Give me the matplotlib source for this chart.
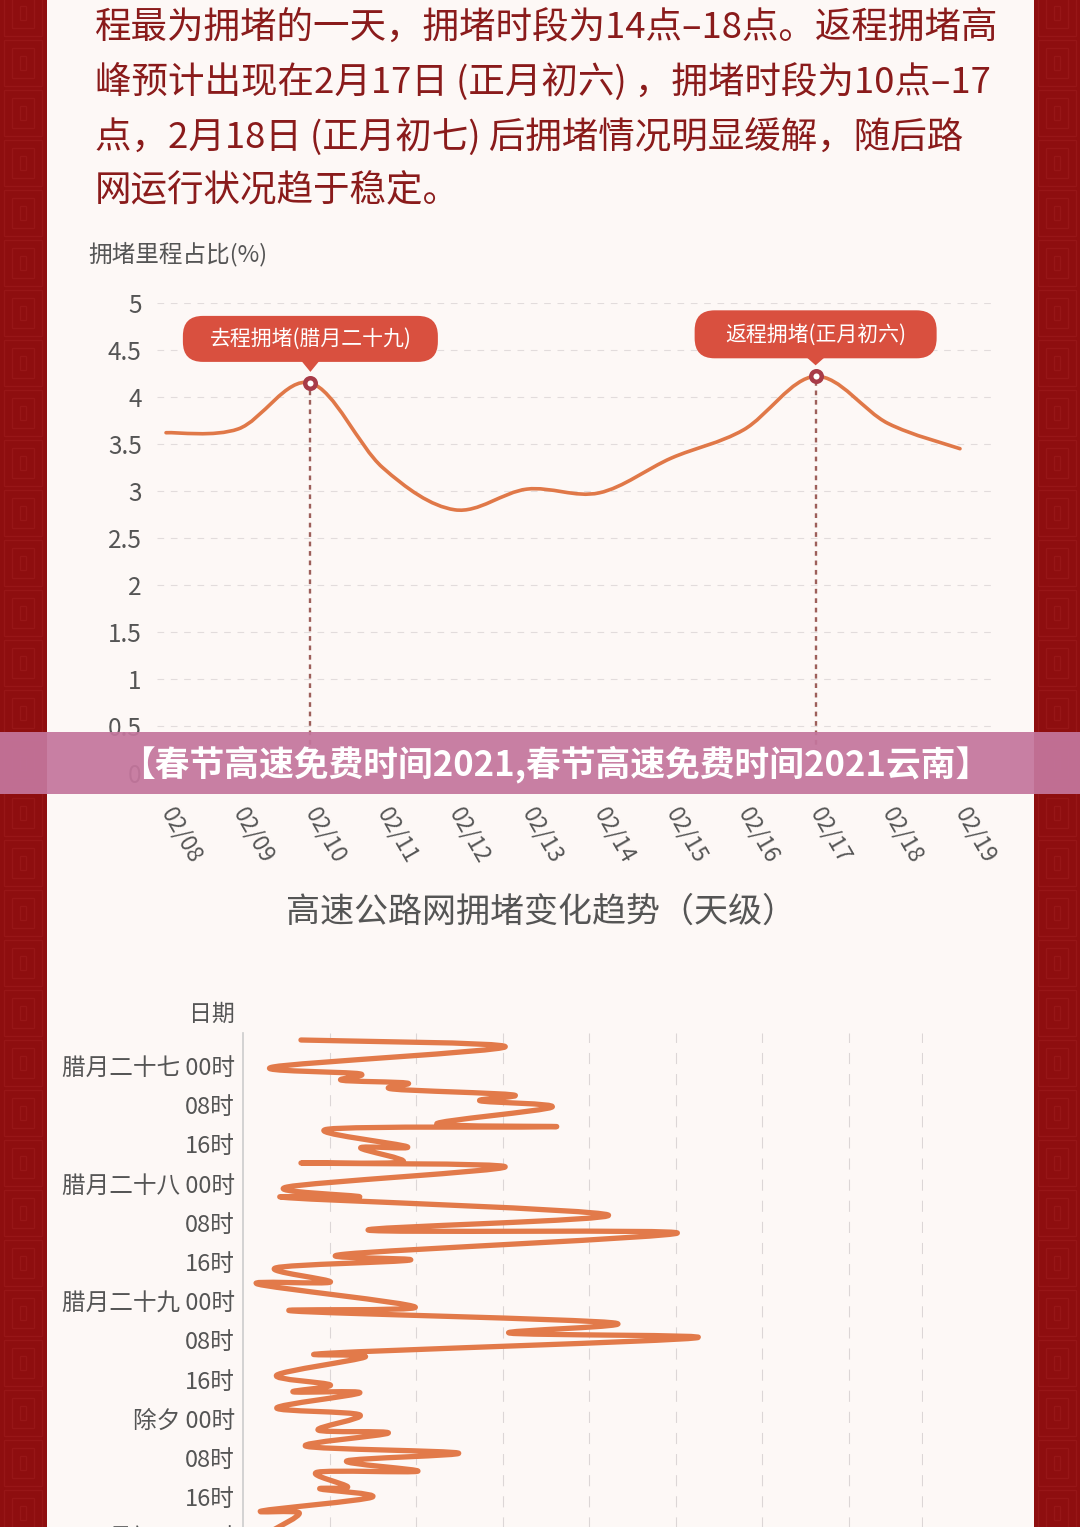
import numpy as np
import matplotlib.pyplot as plt
import matplotlib.transforms as mtransforms
from matplotlib.path import Path
from matplotlib.patches import PathPatch, Rectangle, FancyBboxPatch, Polygon

plt.rcParams['font.family'] = ['Noto Sans CJK SC', 'DejaVu Sans']

W, H = 1080, 1527

# ---- data ----
intro_lines = [
    "程最为拥堵的一天，拥堵时段为14点–18点。返程拥堵高",
    "峰预计出现在2月17日 (正月初六) ，拥堵时段为10点–17",
    "点，2月18日 (正月初七) 后拥堵情况明显缓解，随后路",
    "网运行状况趋于稳定。",
]

dates = ['02/08', '02/09', '02/10', '02/11', '02/12', '02/13',
         '02/14', '02/15', '02/16', '02/17', '02/18', '02/19']
share = [3.62, 3.66, 4.15, 3.25, 2.80, 3.02, 2.98, 3.35, 3.65, 4.22, 3.72, 3.45]
share_ticks = [0, 0.5, 1, 1.5, 2, 2.5, 3, 3.5, 4, 4.5, 5]
peak_idx = [2, 9]
peak_labels = ['去程拥堵(腊月二十九)', '返程拥堵(正月初六)']

hour_ticks = [0, 8, 16, 24, 32, 40, 48, 56, 64, 72, 80, 88, 96]
hour_labels = ['腊月二十七 00时', '08时', '16时',
               '腊月二十八 00时', '08时', '16时',
               '腊月二十九 00时', '08时', '16时',
               '除夕 00时', '08时', '16时', '正月初一 00时']
trend_hours = [-5.3, -3.9, 0.2, 1.6, 2.9, 3.5, 4.7, 5.9, 7.1, 8.4,
               11.8, 12.4, 12.9, 16.5, 16.7, 19.6, 19.8, 20.6, 24.7, 26.7,
               26.9, 30.4, 33.5, 34.1, 38.4, 39.6, 41.2, 44.1, 44.5, 49.2,
               50.0, 52.4, 54.5, 55.5, 58.6, 59.4, 63.1, 65.1, 66.5, 66.7,
               69.8, 71.2, 74.3, 74.9, 77.6, 79.0, 80.6, 82.7, 82.9, 85.9,
               86.3, 88.0, 90.8, 91.2, 94.7]
trend_values = [0.67, 3.03, 0.35, 1.35, 1.14, 1.90, 1.73, 3.12, 2.74, 3.57,
                2.24, 3.61, 0.98, 1.90, 1.36, 1.84, 0.67, 3.03, 0.51, 1.35,
                0.53, 4.22, 1.45, 5.02, 1.18, 1.93, 0.38, 1.01, 0.17, 1.99,
                0.58, 4.27, 3.08, 5.23, 1.01, 1.41, 0.39, 1.01, 0.58, 1.35,
                0.39, 1.35, 0.87, 1.68, 0.73, 2.49, 1.20, 2.02, 0.86, 1.21,
                0.89, 1.49, 0.22, 0.65, 0.35]


def frac(x0, y0, x1, y1):
    # pixel box (top-left origin) -> figure fraction rect
    return [x0 / W, 1 - y1 / H, (x1 - x0) / W, (y1 - y0) / H]


def smooth_path(xs, ys):
    p = np.column_stack([xs, ys]).astype(float)
    q = np.vstack([p[0], p, p[-1]])
    verts = [p[0]]
    codes = [Path.MOVETO]
    for k in range(len(p) - 1):
        c1 = q[k + 1] + (q[k + 2] - q[k]) / 6
        c2 = q[k + 2] - (q[k + 3] - q[k + 1]) / 6
        verts += [c1, c2, q[k + 2]]
        codes += [Path.CURVE4] * 3
    return Path(verts, codes)


fig = plt.figure(figsize=(W / 100, H / 100), dpi=100, facecolor='#8e0e0f')

# faint fret pattern on the red border
for x0 in (4, 1038):
    for y0 in range(-10, H, 50):
        for inset in (0, 8, 16):
            fig.add_artist(Rectangle(((x0 + inset) / W, 1 - (y0 + 46 - inset) / H),
                                     (38 - 2 * inset) / W, (46 - 2 * inset) / H,
                                     transform=fig.transFigure, facecolor='none',
                                     edgecolor='#971617', linewidth=0.9, zorder=0))

fig.add_artist(Rectangle((47 / W, 0), (1034 - 47) / W, 1, transform=fig.transFigure,
                         facecolor='#fdf8f6', edgecolor='none', zorder=0))

for k, line in enumerate(intro_lines):
    fig.text(95 / W, 1 - (28 + 54.3 * k) / H, line, fontsize=26.3, color='#8a1b1b',
             ha='left', va='center')

# ---- top chart ----
ax = fig.add_axes(frac(157, 303, 995, 773))
ax.set_facecolor('none')
x = np.arange(len(dates))
ax.set_xlim(-0.125, 11.485)
ax.set_ylim(0, 5)
for s in ax.spines.values():
    s.set_visible(False)
ax.set_yticks(share_ticks)
ax.set_yticklabels(['0' if t == 0 else f'{t:g}' for t in share_ticks])
ax.tick_params(axis='y', length=0, pad=11, labelsize=17.5, labelcolor='#555555')
ax.set_xticks(x)
ax.set_xticklabels(dates, rotation=-60, ha='left', va='center', rotation_mode='anchor')
ax.tick_params(axis='x', length=0, pad=26, labelsize=16.5, labelcolor='#555555')
ax.grid(axis='y', color='#e2dcdc', linewidth=0.8, linestyle=(0, (6, 6)))
ax.grid(axis='x', visible=False)

ax.add_patch(PathPatch(smooth_path(x, share), facecolor='none', edgecolor='#e07848',
                       linewidth=2.6, capstyle='round', zorder=3))

box_sizes = [(255, 46, 44), (242, 48, 42)]
for i, label, (bw, bh, off) in zip(peak_idx, peak_labels, box_sizes):
    ax.vlines(i, 0, share[i], colors='#9d5f5a', linestyles=(0, (2, 2)), linewidth=1.7, zorder=2)
    ax.plot(i, share[i], 'o', ms=7.6, mfc='white', mec='#a83b48', mew=3.2, zorder=5)
    tr = mtransforms.Affine2D() + mtransforms.ScaledTranslation(i, share[i], ax.transData)
    ax.add_patch(FancyBboxPatch((-bw / 2, off - bh / 2), bw, bh,
                                boxstyle='round,pad=0,rounding_size=20', transform=tr,
                                facecolor='#d9503f', edgecolor='none', clip_on=False, zorder=6))
    ax.add_patch(Polygon([(-9, off - bh / 2 + 1), (9, off - bh / 2 + 1), (0, 11)],
                         closed=True, transform=tr, facecolor='#d9503f', edgecolor='none',
                         clip_on=False, zorder=6))
    ax.text(0, off, label, transform=tr, ha='center', va='center', fontsize=15,
            color='white', zorder=7)

fig.text(88 / W, 1 - 254 / H, '拥堵里程占比(%)', fontsize=17, color='#555555',
         ha='left', va='center')

# ---- bottom chart ----
fig.text(541 / W, 1 - 912 / H, '高速公路网拥堵变化趋势（天级）', fontsize=24.5,
         color='#555555', ha='center', va='center')
fig.text(235 / W, 1 - 1014 / H, '日期', fontsize=16.5, color='#555555',
         ha='right', va='center')

ax2 = fig.add_axes(frac(243, 1033, 923, 1556))
ax2.set_facecolor('none')
xmax = 7.86
ax2.set_xlim(0, xmax)
ax2.set_ylim(100, -6.73)
for name, s in ax2.spines.items():
    s.set_visible(name == 'left')
ax2.spines['left'].set_color('#cccccc')
ax2.spines['left'].set_linewidth(1.2)
ax2.set_xticks(list(range(1, 8)) + [xmax - 0.01])
ax2.set_xticklabels([])
ax2.tick_params(axis='x', length=0)
ax2.grid(axis='x', color='#dcd6d6', linewidth=0.8, linestyle=(0, (10, 9)))
ax2.set_yticks(hour_ticks)
ax2.set_yticklabels(hour_labels)
ax2.tick_params(axis='y', length=0, pad=6, labelsize=17, labelcolor='#555555')

ax2.add_patch(PathPatch(smooth_path(trend_values, trend_hours), facecolor='none',
                        edgecolor='#e27a4a', linewidth=3.8, capstyle='round',
                        joinstyle='round', zorder=3))

# ---- banner overlay ----
fig.add_artist(Rectangle((0, 1 - 794 / H), 1, 62 / H, transform=fig.transFigure,
                         facecolor='#c4769d', edgecolor='none', alpha=0.93, zorder=20))
fig.text(555 / W, 1 - 764 / H, '【春节高速免费时间2021,春节高速免费时间2021云南】',
         fontsize=25, fontweight='bold', color='white', ha='center', va='center', zorder=21)

fig.savefig('out.png', dpi=100, facecolor=fig.get_facecolor())
